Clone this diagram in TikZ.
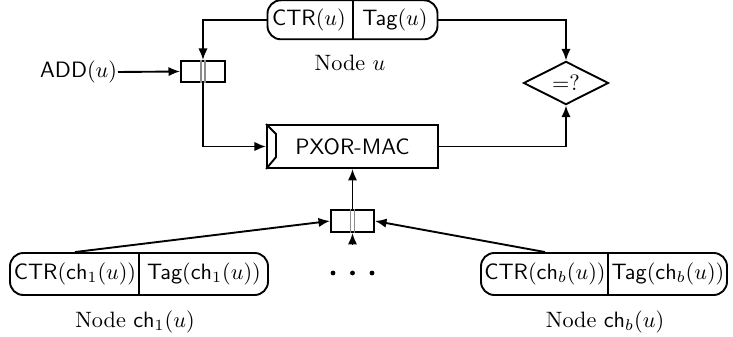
\documentclass[tikz,border=0pt]{standalone}
\usetikzlibrary{arrows.meta,shapes.geometric,calc}
\begin{document}
\begin{tikzpicture}[x=0.45pt,y=0.45pt,
  line width=0.85pt,
  arr/.style={-{Latex[length=5.2pt,width=4.2pt]}},
  rbox/.style={draw,rounded corners=6pt,inner sep=0pt},
  sbox/.style={draw,inner sep=0pt},
  txt/.style={inner sep=1pt},
  decide/.style={draw,diamond,inner sep=0pt,minimum width=38.25pt,minimum height=18.45pt},
  muxline/.style={draw=black!45,line width=0.7pt}
]
\useasboundingbox (0,0) rectangle (733,-337);

% top node u
\node[rbox,minimum width=76.5pt,minimum height=17.55pt] (u) at (352.5,-19.8) {};
\node[txt] (uctr) at (309,-19.5) {\textsf{CTR}$(u)$};
\node[txt] (utag) at (395,-19.5) {\textsf{Tag}$(u)$};
\draw (353,-0.5) -- (353,-39);
\node[txt] (ulabel) at (350,-63) {Node $u$};

% mux 1
\node[sbox,minimum width=19.8pt,minimum height=9.45pt] (mux1) at (203,-71.5) {};
\draw[muxline] ($(mux1.north)+(-1.8,0)$) -- ($(mux1.south)+(-1.8,0)$);
\draw[muxline] ($(mux1.north)+(1.8,0)$) -- ($(mux1.south)+(1.8,0)$);
\node[inner sep=0pt,anchor=east] (add) at (118,-72) {\textsf{ADD}$(u)$};

% PXOR-MAC
\node[sbox,minimum width=76.95pt,minimum height=19.35pt] (pxor) at (352.5,-146.5) {\textsf{PXOR-MAC}};
\draw (pxor.north west) -- ++(10,-10) -- ++(0,-23) -- (pxor.south west);

% comparison
\node[decide] (cmp) at (566,-83) {$=?$};

% mux 2
\node[sbox,minimum width=19.35pt,minimum height=9.9pt] (mux2) at (352.5,-221) {};
\draw[muxline] ($(mux2.north)+(-1.8,0)$) -- ($(mux2.south)+(-1.8,0)$);
\draw[muxline] ($(mux2.north)+(1.8,0)$) -- ($(mux2.south)+(1.8,0)$);
\coordinate (below) at (352.5,-245);

% child 1
\node[rbox,minimum width=116.1pt,minimum height=18.9pt] (c1) at (139,-274) {};
\node[txt] (c1ctr) at (75,-274) {\textsf{CTR}$(\mathsf{ch}_1(u))$};
\node[txt] (c1tag) at (204,-274) {\textsf{Tag}$(\mathsf{ch}_1(u))$};
\draw (139,-253) -- (139,-295);
\node[txt] (c1label) at (135,-322) {Node $\mathsf{ch}_1(u)$};

% child b
\node[rbox,minimum width=110.7pt,minimum height=18.9pt] (cb) at (604,-274) {};
\node[txt] (cbctr) at (545,-274) {\textsf{CTR}$(\mathsf{ch}_b(u))$};
\node[txt] (cbtag) at (668,-274) {\textsf{Tag}$(\mathsf{ch}_b(u))$};
\draw (608,-253) -- (608,-295);
\node[txt] (cblabel) at (605,-322) {Node $\mathsf{ch}_b(u)$};

% dots
\fill (333,-273) circle (2.4) (352.5,-273) circle (2.4) (372,-273) circle (2.4);

% connectors
\draw[arr] (u.west) -| (mux1.north);
\draw[arr] (add.east) -- (mux1.west);
\draw[arr] (mux1.south) |- (pxor.west);
\draw[arr] (u.east) -| (cmp.north);
\draw[arr] (pxor.east) -| (cmp.south);
\draw[arr] (mux2.north) -- (pxor.south);
\draw[arr] (below) -- (mux2.south);
\draw[arr] (c1.north -| c1ctr) -- (mux2.west);
\draw[arr] (cb.north -| cbctr) -- (mux2.east);
\end{tikzpicture}
\end{document}
